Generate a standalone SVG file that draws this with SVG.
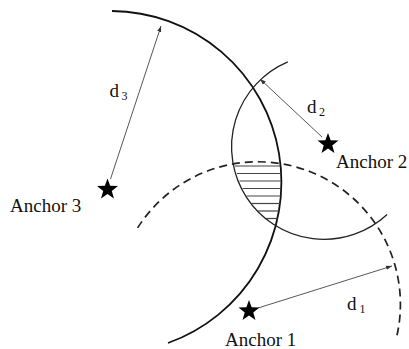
<svg xmlns="http://www.w3.org/2000/svg" xmlns:xlink="http://www.w3.org/1999/xlink" width="409" height="349" viewBox="0 0 409 349">
<style>
.bg{fill:#ffffff}
.c3{fill:none;stroke:#111;stroke-width:1.8}
.c2{fill:none;stroke:#222;stroke-width:1.3}
.c1{fill:none;stroke:#222;stroke-width:1.7;stroke-dasharray:8 5}
.hatch line{stroke:#444;stroke-width:1.2}
.arrow{stroke:#444;stroke-width:0.9;fill:none;marker-end:url(#ah)}
.star{fill:#000}
.lbl{font-family:"Liberation Serif","Times New Roman",serif;font-size:19px;fill:#111}
.d{font-family:"Liberation Serif","Times New Roman",serif;font-size:19px;fill:#111}
.sub{font-size:12px}
</style>
<defs>
<marker id="ah" viewBox="0 0 10 10" refX="10" refY="5" markerWidth="6" markerHeight="6" markerUnits="userSpaceOnUse" orient="auto">
<path d="M0,1.5 L10,5 L0,8.5 z" fill="#333"/>
</marker>
<polygon id="starshape" points="0,-11 2.65,-3.64 10.46,-3.4 4.28,1.39 6.47,8.9 0,4.5 -6.47,8.9 -4.28,1.39 -10.46,-3.4 -2.65,-3.64"/>
</defs>
<rect class="bg" x="0" y="0" width="409" height="349"/>

<g id="ranges">
<path id="range3" class="c3" d="M112,11 A171,171 0 0 1 168,343"/>
<path id="range2" class="c2" d="M287.8,61.8 A92.5,92.5 0 1 0 387.1,214.6"/>
<path id="range1" class="c1" d="M137.6,227.9 A142.5,142.5 0 0 1 396.6,337"/>
</g>

<g id="intersection" class="hatch">
<line x1="235" y1="166" x2="280.5" y2="166"/>
<line x1="237" y1="173.5" x2="281" y2="173.5"/>
<line x1="239.5" y1="181" x2="281" y2="181"/>
<line x1="242.5" y1="188.5" x2="281" y2="188.5"/>
<line x1="246.5" y1="196" x2="280.5" y2="196"/>
<line x1="251.5" y1="203.5" x2="280" y2="203.5"/>
<line x1="258" y1="211" x2="279" y2="211"/>
<line x1="266" y1="218.5" x2="277.5" y2="218.5"/>
</g>

<g id="connectors">
<line class="arrow" x1="110.5" y1="179" x2="161" y2="26"/>
<line class="arrow" x1="322" y1="137" x2="260" y2="79"/>
<line class="arrow" x1="258" y1="308" x2="392" y2="266"/>
<text class="d" x="109.5" y="96.5">d<tspan class="sub" x="121.5" y="99.5">3</tspan></text>
<text class="d" x="307" y="112.5">d<tspan class="sub" x="319" y="115.5">2</tspan></text>
<text class="d" x="347" y="310">d<tspan class="sub" x="359.5" y="313">1</tspan></text>
</g>

<g id="anchor1">
<use xlink:href="#starshape" class="star" x="249" y="311"/>
<text class="lbl" x="225" y="346">Anchor 1</text>
</g>
<g id="anchor2">
<use xlink:href="#starshape" class="star" x="328" y="144"/>
<text class="lbl" x="336" y="168">Anchor 2</text>
</g>
<g id="anchor3">
<use xlink:href="#starshape" class="star" x="107.5" y="189.5"/>
<text class="lbl" x="10" y="212">Anchor 3</text>
</g>
</svg>
